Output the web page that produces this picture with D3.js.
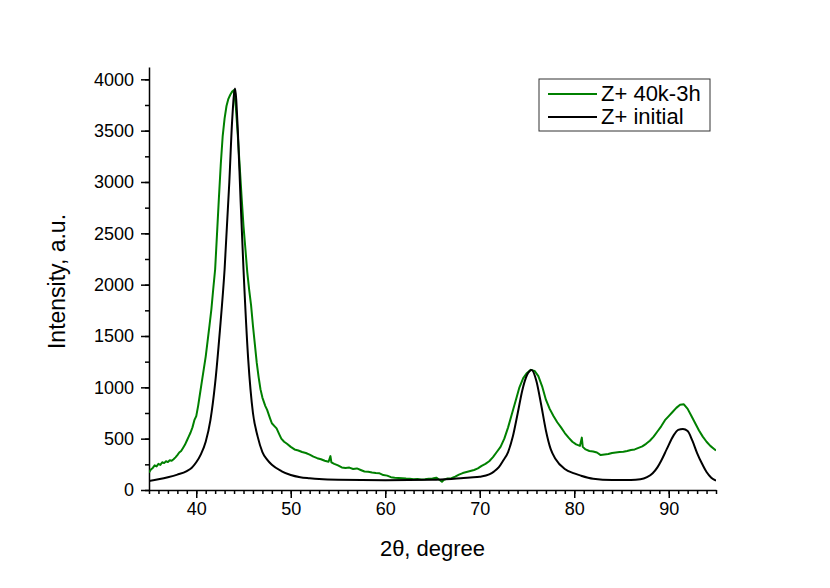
<!DOCTYPE html>
<html>
<head>
<meta charset="utf-8">
<script src="https://cdn.jsdelivr.net/npm/d3@7"></script>
<style>
	body { margin: 0; background: #fff; }
	svg { display: block; font-family: "Liberation Sans", Arial, sans-serif; }
	.axis path, .axis line { stroke: #000; stroke-width: 1.5; }
	.axis text { font-size: 18px; fill: #000; font-family: "Liberation Sans", Arial, sans-serif; }
</style>
</head>
<body>
<svg id="svg"></svg>
<script>
// series
const seriesNames = ['Z+ 40k-3h', 'Z+ initial']
const seriesColors = ['#008000', '#000000']

const thetaGreen = [35.0, 35.2, 35.4, 35.6, 35.8, 36.0, 36.2, 36.4, 36.6, 36.8, 37.0, 37.2, 37.4, 37.6, 37.8,
	38.0, 38.2, 38.4, 38.6, 38.8, 39.0, 39.2, 39.4, 39.6, 39.8, 40.0, 40.2, 40.4, 40.6, 40.8,
	41.0, 41.2, 41.4, 41.6, 41.8, 42.0, 42.2, 42.4, 42.6, 42.8, 43.0, 43.2, 43.4, 43.6, 43.8,
	44.0, 44.2, 44.4, 44.6, 44.8, 45.0, 45.2, 45.4, 45.6, 45.8, 46.0, 46.2, 46.4, 46.6, 46.8,
	47.0, 47.3, 47.5, 47.8, 48.0, 48.3, 48.5, 48.8, 49.0, 49.3, 49.6, 50.0, 50.4, 50.8, 51.2,
	51.6, 52.0, 52.4, 52.8, 53.2, 53.6, 54.0, 54.2, 54.3, 54.6, 55.0, 55.4, 55.8, 56.2, 56.6,
	57.0, 57.4, 57.8, 58.2, 58.6, 59.0, 59.4, 59.8, 60.2, 60.6, 61.0, 61.4, 61.8, 62.2, 62.6,
	63.0, 63.4, 63.8, 64.2, 64.6, 65.0, 65.4, 65.8, 66.0, 66.2, 66.6, 67.0, 67.4, 67.8, 68.2,
	68.6, 69.0, 69.4, 69.8, 70.2, 70.6, 71.0, 71.4, 71.8, 72.2, 72.6, 73.0, 73.4, 73.8, 74.2,
	74.6, 75.0, 75.4, 75.8, 76.2, 76.6, 77.0, 77.4, 77.8, 78.2, 78.6, 79.0, 79.4, 79.8, 80.2,
	80.6, 80.8, 80.9, 81.2, 81.6, 82.0, 82.4, 82.8, 83.2, 83.6, 84.0, 84.4, 84.8, 85.2, 85.6,
	86.0, 86.4, 86.8, 87.2, 87.6, 88.0, 88.4, 88.8, 89.2, 89.6, 90.0, 90.4, 90.8, 91.2, 91.6,
	92.0, 92.4, 92.8, 93.2, 93.6, 94.0, 94.4, 94.8, 95.0]
const intensityGreen = [170, 200, 215, 240, 230, 255, 245, 270, 262, 280, 272, 290, 285, 300, 318,
	340, 365, 380, 410, 440, 480, 520, 560, 610, 680, 720, 820, 940, 1060, 1180,
	1300, 1450, 1600, 1760, 1960, 2150, 2500, 2850, 3180, 3450, 3620, 3740, 3810, 3850, 3880,
	3895, 3720, 3450, 3150, 2850, 2570, 2350, 2120, 1950, 1800, 1600, 1420, 1240, 1100, 980,
	900, 820, 780, 700, 650, 620, 600, 540, 500, 470, 450, 420, 395, 385, 370,
	360, 345, 325, 310, 300, 285, 275, 330, 270, 255, 240, 220, 215, 218, 205,
	210, 195, 180, 178, 170, 165, 162, 145, 140, 125, 120, 118, 115, 112, 110,
	105, 108, 102, 105, 110, 112, 120, 95, 80, 100, 112, 115, 130, 150, 165,
	175, 185, 195, 210, 235, 255, 280, 320, 370, 420, 500, 610, 740, 870, 1000,
	1090, 1140, 1170, 1160, 1110, 1010, 880, 790, 720, 660, 610, 555, 510, 470, 445,
	430, 510, 420, 395, 380, 375, 365, 340, 345, 350, 360, 365, 370, 372, 380,
	390, 395, 410, 425, 450, 480, 520, 570, 620, 680, 720, 760, 800, 830, 835,
	790, 720, 650, 580, 520, 470, 430, 400, 385]

const thetaBlack = [35, 36, 37, 38, 39, 39.5, 40, 40.5, 41, 41.5, 42, 42.5, 43, 43.5, 43.8,
	44.1, 44.4, 44.7, 45, 45.5, 46, 46.5, 47, 47.5, 48, 49, 50, 51, 52, 53,
	55, 60, 65, 67, 68, 69, 70, 71, 71.5, 72, 72.5, 73, 73.5, 74, 74.5,
	75, 75.5, 76, 76.5, 77, 77.5, 78, 79, 80, 80.7, 82, 84, 86, 87, 87.7,
	88.3, 88.8, 89.2, 89.8, 90.5, 91, 91.5, 92, 92.5, 93, 93.5, 94, 94.5, 95]
const intensityBlack = [88, 105, 125, 150, 185, 215, 270, 350, 470, 680, 1040, 1550, 2150, 3000, 3600,
	3910, 3500, 2800, 2150, 1270, 750, 520, 370, 295, 245, 185, 146, 125, 115, 107,
	100, 96, 100, 108, 114, 122, 130, 152, 179, 220, 290, 370, 520, 740, 970,
	1120, 1170, 1060, 830, 580, 400, 305, 205, 162, 140, 110, 98, 98, 104, 125,
	163, 220, 285, 400, 530, 585, 595, 575, 480, 360, 260, 175, 120, 91]

const xDomain = [35, 95]
const yDomain = [0, 4120]
const xTicks = [40, 50, 60, 70, 80, 90]
const yTicks = [0, 500, 1000, 1500, 2000, 2500, 3000, 3500, 4000]

const W = 830, H = 588
const margin = {top: 67, right: 114, bottom: 98, left: 149}
const width = W - margin.left - margin.right
const height = H - margin.top - margin.bottom

const svg = d3.select('#svg').attr('width', W).attr('height', H)
const g = svg.append('g').attr('transform', `translate(${margin.left},${margin.top})`)

const x = d3.scaleLinear().domain(xDomain).range([0, width])
const y = d3.scaleLinear().domain(yDomain).range([height, 0])

// minor ticks first, then major with labels
g.append('g')
	.attr('class', 'axis')
	.attr('transform', `translate(0,${height})`)
	.call(d3.axisBottom(x).tickValues(d3.range(35, 96, 1)).tickSize(4).tickFormat(''))
	.call(a => a.select('.domain').remove())
g.append('g')
	.attr('class', 'axis')
	.attr('transform', `translate(0,${height})`)
	.call(d3.axisBottom(x).tickValues(xTicks).tickSize(8).tickSizeOuter(0).tickPadding(4).tickFormat(d3.format('d')))

g.append('g')
	.attr('class', 'axis')
	.call(d3.axisLeft(y).tickValues(d3.range(0, 4001, 250)).tickSize(4).tickFormat(''))
	.call(a => a.select('.domain').remove())
g.append('g')
	.attr('class', 'axis')
	.call(d3.axisLeft(y).tickValues(yTicks).tickSize(8).tickSizeOuter(0).tickPadding(7).tickFormat(d3.format('d')))

const clip = svg.append('clipPath').attr('id', 'plot-clip')
	.append('rect').attr('width', width).attr('height', height + 2).attr('y', -2)

const greenData = d3.zip(thetaGreen, intensityGreen)
const blackData = d3.zip(thetaBlack, intensityBlack)

g.append('path')
	.datum(greenData)
	.attr('clip-path', 'url(#plot-clip)')
	.attr('fill', 'none')
	.attr('stroke', seriesColors[0])
	.attr('stroke-width', 2)
	.attr('stroke-linejoin', 'round')
	.attr('d', d3.line().x(d => x(d[0])).y(d => y(d[1])))

g.append('path')
	.datum(blackData)
	.attr('clip-path', 'url(#plot-clip)')
	.attr('fill', 'none')
	.attr('stroke', seriesColors[1])
	.attr('stroke-width', 2)
	.attr('d', d3.line().curve(d3.curveMonotoneX).x(d => x(d[0])).y(d => y(d[1])))

// axis titles
svg.append('text')
	.attr('x', margin.left + width / 2)
	.attr('y', 556)
	.attr('text-anchor', 'middle')
	.attr('font-size', 22)
	.text('2θ, degree')
svg.append('text')
	.attr('transform', `translate(65,${margin.top + height / 2 + 3}) rotate(-90)`)
	.attr('text-anchor', 'middle')
	.attr('font-size', 23)
	.text('Intensity, a.u.')

// legend
const lg = svg.append('g').attr('transform', 'translate(539,79)')
lg.append('rect')
	.attr('width', 171).attr('height', 52)
	.attr('fill', '#fff').attr('stroke', '#333').attr('stroke-width', 1)
seriesNames.forEach((name, i) => {
	const yy = 15 + i * 23
	lg.append('line')
		.attr('x1', 9).attr('x2', 58).attr('y1', yy).attr('y2', yy)
		.attr('stroke', seriesColors[i]).attr('stroke-width', 2)
	lg.append('text')
		.attr('x', 62).attr('y', yy + 7)
		.attr('font-size', 22)
		.text(name)
})
</script>
</body>
</html>
